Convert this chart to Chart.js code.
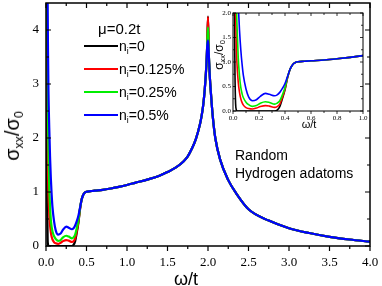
<!DOCTYPE html>
<html>
<head>
<meta charset="utf-8">
<script src="https://cdn.jsdelivr.net/npm/chart.js@4.4.1/dist/chart.umd.min.js"></script>
<style>
  html, body { margin: 0; padding: 0; background: #fff; }
  #wrap { position: relative; width: 382px; height: 286px; overflow: hidden; font-family: "Liberation Sans", Arial, sans-serif; color: #000; }
  #main { position: absolute; left: 0; top: 0; }
  #inset { position: absolute; left: 195px; top: 5px; }
  .txt { position: absolute; white-space: nowrap; line-height: 1; }
  .c { transform: translate(-50%, -50%); }
  .rot { transform: translate(-50%, -50%) rotate(-90deg); }
  sub { font-size: 62%; vertical-align: -0.3em; line-height: 0; }
  .key { position: absolute; height: 2px; }
</style>
</head>
<body>
<div id="wrap">
  <canvas id="main" width="382" height="286"></canvas>
  <canvas id="inset" width="180" height="130"></canvas>
  <div class="txt c" style="left:186px; top:279px; font-size:18px;">ω/t</div>
  <div class="txt rot" style="left:12px; top:136px; font-size:20px;">σ<sub>xx</sub>/σ<sub>0</sub></div>
  <div class="txt c" style="left:309px; top:124px; font-size:11px;">ω/t</div>
  <div class="txt rot" style="left:219px; top:55px; font-size:12px;">σ<sub>xx</sub>/σ<sub>0</sub></div>
  <div class="txt" style="left:98px; top:21px; font-size:15px;">μ=0.2t</div>
  <div class="txt" style="left:235px; top:148px; font-size:14px;">Random</div>
  <div class="txt" style="left:235px; top:166px; font-size:14px;">Hydrogen adatoms</div>
  <div id="legend"></div>
</div>
<script>
// impurity concentrations and line colours
const impurity = ['0', '0.125%', '0.25%', '0.5%'];
const lineColors = ['#000000', '#ff0000', '#00ee00', '#0000ff'];

// low-frequency part, where the curves differ
const omegaLow = [0, 0.005, 0.01, 0.015, 0.02, 0.025, 0.03, 0.04, 0.05, 0.06, 0.07, 0.08, 0.1, 0.12,
  0.15, 0.18, 0.21, 0.25, 0.28, 0.32, 0.34, 0.36, 0.38, 0.40, 0.42, 0.44, 0.46, 0.48];
const sigmaLowClean = [20, 6, 2.5, 0.8, 0.15, 0.03, 0, 0, 0, 0, 0, 0, 0, 0,
  0, 0, 0, 0, 0, 0, 0.02, 0.09, 0.25, 0.43, 0.68, 0.86, 0.95, 0.99];
const sigmaLowRed = [20, 8, 4.5, 2.8, 2.0, 1.4, 1.0, 0.6, 0.38, 0.25, 0.17, 0.12, 0.07, 0.05,
  0.04, 0.06, 0.09, 0.11, 0.1, 0.075, 0.09, 0.14, 0.28, 0.45, 0.69, 0.86, 0.95, 0.99];
const sigmaLowGreen = [20, 10, 6, 4, 2.9, 2.3, 1.8, 1.1, 0.72, 0.48, 0.35, 0.27, 0.18, 0.13,
  0.095, 0.11, 0.16, 0.19, 0.175, 0.14, 0.16, 0.21, 0.33, 0.48, 0.7, 0.86, 0.95, 0.99];
const sigmaLowBlue = [20, 12, 8, 5.8, 4.5, 3.6, 2.9, 2.2, 1.65, 1.25, 0.95, 0.72, 0.45, 0.29,
  0.21, 0.23, 0.3, 0.36, 0.34, 0.31, 0.33, 0.38, 0.46, 0.56, 0.71, 0.86, 0.95, 0.99];

// common part above 0.5t, null marks the van Hove peak
const omegaHigh = [0.5, 0.55, 0.6, 0.7, 0.8, 0.9, 1.0, 1.1, 1.25, 1.4, 1.5, 1.6, 1.7, 1.75, 1.8, 1.85,
  1.9, 1.92, 1.94, 1.96, 1.98, 1.99, 2.0, 2.01, 2.02, 2.04, 2.06, 2.09, 2.15, 2.25, 2.35, 2.5,
  2.75, 3.0, 3.25, 3.5, 3.75, 4.0];
const sigmaHigh = [1.005, 1.015, 1.025, 1.04, 1.065, 1.095, 1.13, 1.17, 1.23, 1.3, 1.37, 1.45, 1.57, 1.66, 1.8, 1.98,
  2.25, 2.4, 2.6, 2.9, 3.35, 3.7, null, 3.55, 3.2, 2.75, 2.38, 2.0, 1.6, 1.22, 0.97, 0.68,
  0.47, 0.33, 0.24, 0.17, 0.12, 0.08];
const peakSigma = [4.25, 4.24, 4.05, 3.81];

const lowSets = [sigmaLowClean, sigmaLowRed, sigmaLowGreen, sigmaLowBlue];

function seriesPoints(low, peak) {
  const pts = omegaLow.map((x, i) => ({ x: x, y: low[i] }));
  omegaHigh.forEach((x, i) => pts.push({ x: x, y: sigmaHigh[i] === null ? peak : sigmaHigh[i] }));
  return pts;
}

function makeDatasets(width) {
  return lowSets.map((low, i) => ({
    label: 'ni=' + impurity[i],
    data: seriesPoints(low, peakSigma[i]),
    borderColor: lineColors[i],
    borderWidth: width,
    pointRadius: 0,
    cubicInterpolationMode: 'monotone',
    order: lowSets.length - i
  }));
}

// frame plus inward ticks (bottom ticks point out)
const frameTicks = {
  id: 'frameTicks',
  afterDatasetsDraw(chart, args, o) {
    const { ctx, chartArea: a, scales } = chart;
    const marks = (scale) => {
      const vals = scale.ticks.map(t => t.value);
      const out = [];
      vals.forEach((v, i) => {
        out.push([scale.getPixelForValue(v), o.major]);
        if (i < vals.length - 1) out.push([scale.getPixelForValue((v + vals[i + 1]) / 2), o.minor]);
      });
      return out;
    };
    ctx.save();
    ctx.strokeStyle = '#000';
    ctx.lineWidth = o.tickWidth;
    ctx.beginPath();
    marks(scales.x).forEach(([p, len]) => {
      ctx.moveTo(p, a.bottom); ctx.lineTo(p, a.bottom + len);
      ctx.moveTo(p, a.top); ctx.lineTo(p, a.top + len);
    });
    marks(scales.y).forEach(([p, len]) => {
      ctx.moveTo(a.left, p); ctx.lineTo(a.left + len, p);
      ctx.moveTo(a.right, p); ctx.lineTo(a.right - len, p);
    });
    ctx.stroke();
    ctx.lineWidth = o.frameWidth;
    ctx.strokeRect(a.left, a.top, a.right - a.left, a.bottom - a.top);
    ctx.restore();
  }
};

function axis(min, max, step, fontSize, pad, fmt, fit) {
  return {
    type: 'linear', min: min, max: max,
    grid: { display: false, drawTicks: false },
    border: { display: false },
    ticks: {
      stepSize: step, includeBounds: false, padding: pad,
      color: '#000', font: { family: '"Liberation Serif", "Times New Roman", serif', size: fontSize },
      callback: fmt, maxRotation: 0, autoSkip: false
    },
    afterFit: s => {
      fit(s);
      s.paddingLeft = 0; s.paddingRight = 0; s.paddingTop = 0; s.paddingBottom = 0;
    }
  };
}

new Chart(document.getElementById('main'), {
  type: 'line',
  data: { datasets: makeDatasets(2.2) },
  options: {
    responsive: false, animation: false,
    layout: { padding: { left: 0, top: 3, right: 12, bottom: 0 } },
    scales: {
      x: axis(0, 4, 0.5, 13, 9, v => v.toFixed(1), s => { s.height = 40; }),
      y: axis(0, 4.5, 1, 13, 7, v => String(v), s => { s.width = 46; })
    },
    plugins: {
      legend: { display: false }, tooltip: { enabled: false },
      frameTicks: { major: 5, minor: 3, tickWidth: 1.2, frameWidth: 1.5 }
    }
  },
  plugins: [frameTicks]
});

new Chart(document.getElementById('inset'), {
  type: 'line',
  data: { datasets: makeDatasets(1.6) },
  options: {
    responsive: false, animation: false,
    layout: { padding: { left: 0, top: 8, right: 12, bottom: 0 } },
    scales: {
      x: axis(0, 1, 0.2, 7, 3, v => v.toFixed(1), s => { s.height = 24; }),
      y: axis(0, 2, 0.5, 7, 2, v => v.toFixed(1), s => { s.width = 38; })
    },
    plugins: {
      legend: { display: false }, tooltip: { enabled: false },
      frameTicks: { major: 3, minor: 2, tickWidth: 0.8, frameWidth: 1 }
    }
  },
  plugins: [frameTicks]
});

// legend with subscripted labels
const legend = document.getElementById('legend');
impurity.forEach((c, i) => {
  const y = 46 + i * 23;
  const key = document.createElement('div');
  key.className = 'key';
  key.style.cssText = 'left:84px; width:34px; top:' + (y - 1) + 'px; background:' + lineColors[i] + ';';
  legend.appendChild(key);
  const t = document.createElement('div');
  t.className = 'txt';
  t.style.cssText = 'left:119px; top:' + (y - 8) + 'px; font-size:14px; line-height:16px;';
  t.innerHTML = 'n<sub>i</sub>=' + c;
  legend.appendChild(t);
});
</script>
</body>
</html>
